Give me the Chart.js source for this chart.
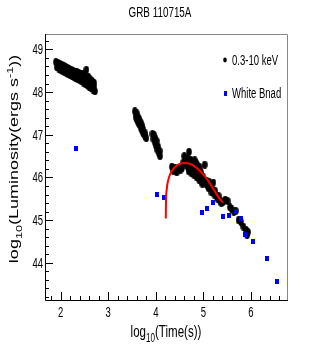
<!DOCTYPE html>
<html>
<head>
<meta charset="utf-8">
<script src="https://cdn.jsdelivr.net/npm/chart.js@4.4.0/dist/chart.umd.min.js"></script>
<style>
  html, body { margin: 0; padding: 0; background: #fff; }
  #wrap { width: 319px; height: 354px; position: relative; }
</style>
</head>
<body>
<div id="wrap"><canvas id="mainChart" width="319" height="354"></canvas></div>
<script>
// X-ray (0.3-10 keV) light curve, log10 values
const xrayTime = [
  // early steep part
  1.90, 1.94, 1.98, 2.02, 2.06, 2.10, 2.14, 2.18, 2.22, 2.26, 2.30, 2.34, 2.38, 2.42, 2.46, 2.50, 2.54, 2.58, 2.62, 2.66, 2.70,
  1.92, 1.96, 2.00, 2.04, 2.08, 2.12, 2.16, 2.20, 2.24, 2.28, 2.32, 2.36, 2.40, 2.44, 2.48, 2.52, 2.56, 2.60, 2.64, 2.68, 2.72,
  1.94, 1.98, 2.02, 2.06, 2.10, 2.14, 2.18, 2.22, 2.26, 2.30, 2.34, 2.38, 2.42, 2.46, 2.50, 2.54, 2.58, 2.62, 2.66, 2.70,
  // second orbit
  3.56, 3.58, 3.59, 3.60, 3.61, 3.62, 3.63, 3.64, 3.65, 3.66, 3.67, 3.68, 3.69, 3.70, 3.71, 3.72, 3.73, 3.74, 3.75, 3.77, 3.78, 3.80,
  3.93, 3.95, 3.96, 3.98, 3.99, 4.00, 4.02, 4.03, 4.05, 4.06, 4.08, 4.09,
  // flare and late decay
  4.34, 4.37, 4.41, 4.44, 4.48, 4.52, 4.55, 4.60, 4.64, 4.67, 4.70, 4.72, 4.74, 4.76,
  4.78, 4.79, 4.81, 4.83, 4.84, 4.86, 4.88, 4.89, 4.91, 4.93, 4.95, 4.97, 5.00, 5.03,
  5.05, 5.07, 5.11, 5.14, 5.17, 5.21, 5.23, 5.28, 5.32, 5.36, 5.41, 5.46, 5.51, 5.56,
  5.60, 5.64, 5.68, 5.74, 5.79, 5.84, 5.90, 5.92, 5.94,
  4.58, 4.62, 4.66, 4.69, 4.73, 4.75, 4.77, 4.80, 4.82, 4.85, 4.87, 4.90, 4.92, 4.94,
  4.96, 4.98, 5.02, 5.09, 5.12, 5.19, 5.25, 5.30, 5.38
];
const xrayLum = [
  48.70, 48.68, 48.66, 48.64, 48.62, 48.58, 48.57, 48.54, 48.52, 48.50, 48.48, 48.47, 48.44, 48.42, 48.43, 48.40, 48.52, 48.36, 48.30, 48.26, 48.22,
  48.58, 48.55, 48.52, 48.50, 48.48, 48.45, 48.42, 48.40, 48.38, 48.35, 48.32, 48.30, 48.28, 48.25, 48.22, 48.20, 48.16, 48.12, 48.10, 48.06, 48.02,
  48.63, 48.60, 48.58, 48.55, 48.52, 48.50, 48.48, 48.45, 48.43, 48.41, 48.39, 48.37, 48.34, 48.32, 48.30, 48.28, 48.25, 48.22, 48.17, 48.14,
  47.55, 47.48, 47.40, 47.50, 47.35, 47.42, 47.30, 47.38, 47.25, 47.32, 47.22, 47.28, 47.15, 47.22, 47.10, 47.16, 47.05, 47.12, 47.02, 46.98, 47.03, 46.92,
  47.02, 46.90, 47.00, 46.82, 46.92, 46.75, 46.85, 46.65, 46.72, 46.58, 46.62, 46.50,
  46.25, 46.15, 46.22, 46.12, 46.20, 46.18, 46.22, 46.50, 46.30, 46.25, 46.60, 46.30, 46.22, 46.38,
  46.15, 46.30, 46.05, 46.25, 46.35, 46.00, 46.20, 46.10, 45.95, 46.15, 46.05, 45.90, 46.00, 46.30,
  45.85, 45.92, 45.75, 45.80, 45.65, 45.88, 45.60, 45.55, 45.57, 45.45, 45.42, 45.48, 45.45, 45.30,
  45.25, 45.20, 45.22, 45.00, 44.96, 44.85, 44.77, 44.65, 44.72,
  46.35, 46.40, 46.45, 46.15, 46.42, 46.10, 46.25, 46.20, 46.40, 46.15, 46.30, 46.00, 46.25, 45.98,
  46.10, 45.85, 45.95, 45.80, 45.90, 45.72, 45.68, 45.50, 45.40
];

// White band (optical) points
const whiteTime = [2.32, 4.03, 4.18, 4.97, 5.07, 5.21, 5.42, 5.55, 5.68, 5.80, 5.88, 6.04, 6.33, 6.56];
const whiteLum  = [46.67, 45.60, 45.53, 45.17, 45.28, 45.41, 45.08, 45.12, 45.20, 45.04, 44.67, 44.50, 44.10, 43.57];

// Red fitted curve
const fitTime = [4.21, 4.215, 4.23, 4.26, 4.30, 4.36, 4.44, 4.53, 4.62, 4.71, 4.80, 4.89, 4.98, 5.07, 5.16, 5.25, 5.33, 5.41];
const fitLum  = [45.04, 45.45, 45.72, 45.93, 46.07, 46.19, 46.28, 46.33, 46.34, 46.32, 46.27, 46.19, 46.09, 45.97, 45.82, 45.66, 45.52, 45.41];

// Axis ticks and labels
const xTicks = [2, 3, 4, 5, 6];
const yTicks = [44, 45, 46, 47, 48, 49];
const chartTitle = 'GRB 110715A';
const seriesNames = ['0.3-10 keV', 'White Bnad'];

const SQUASH = 0.68; // the figure is compressed horizontally
const FONT = '"Liberation Sans", Arial, sans-serif';

// marker images
function makeMarker(w, h, draw) {
    const c = document.createElement('canvas');
    c.width = w; c.height = h;
    draw(c.getContext('2d'), w, h);
    return c;
}
const blackDot = makeMarker(6, 8, (g, w, h) => {
    g.fillStyle = '#000';
    g.beginPath();
    g.ellipse(w / 2, h / 2, 2.8, 3.9, 0, 0, Math.PI * 2);
    g.fill();
});
const blueSquare = makeMarker(4, 5, (g, w, h) => {
    g.fillStyle = '#0000ff';
    g.fillRect(0, 0, w, h);
});

// draws text with optional sub/superscript parts, squashed horizontally
function richWidth(ctx, parts, size) {
    let w = 0;
    parts.forEach(p => {
        const s = p.k === 'n' ? size : size * 0.7;
        ctx.font = s + 'px ' + FONT;
        w += ctx.measureText(p.t).width;
    });
    return w;
}
function drawParts(ctx, parts, size, startX) {
    let cx = startX;
    ctx.textAlign = 'left';
    ctx.textBaseline = 'alphabetic';
    parts.forEach(p => {
        const s = p.k === 'n' ? size : size * 0.7;
        ctx.font = s + 'px ' + FONT;
        let dy = 0;
        if (p.k === 'sub') dy = size * 0.3;
        if (p.k === 'sup') dy = -size * 0.42;
        ctx.fillText(p.t, cx, dy);
        cx += ctx.measureText(p.t).width;
    });
}
function drawRich(ctx, parts, x, y, size, align) {
    ctx.save();
    ctx.translate(x, y);
    ctx.scale(SQUASH, 1);
    const total = richWidth(ctx, parts, size);
    const start = align === 'center' ? -total / 2 : (align === 'right' ? -total : 0);
    drawParts(ctx, parts, size, start);
    ctx.restore();
}

const rootStyle = {
    id: 'rootStyle',
    afterDraw(chart) {
        const ctx = chart.ctx;
        const a = chart.chartArea;
        const xs = chart.scales.x, ys = chart.scales.y;
        ctx.save();

        // frame
        ctx.lineWidth = 1;
        ctx.strokeStyle = '#888';
        ctx.beginPath();
        ctx.moveTo(a.left, a.top + 0.5); ctx.lineTo(a.right + 0.5, a.top + 0.5);
        ctx.lineTo(a.right + 0.5, a.bottom);
        ctx.stroke();
        ctx.strokeStyle = '#000';
        ctx.beginPath();
        ctx.moveTo(a.left + 0.5, a.top); ctx.lineTo(a.left + 0.5, a.bottom + 0.5);
        ctx.lineTo(a.right + 1, a.bottom + 0.5);
        ctx.stroke();

        // inward ticks, minor every 0.2
        ctx.beginPath();
        for (let i = Math.ceil(xs.min * 5); i <= Math.floor(xs.max * 5); i++) {
            const px = Math.round(xs.getPixelForValue(i / 5)) + 0.5;
            const len = i % 5 === 0 ? 8 : 4;
            ctx.moveTo(px, a.bottom);
            ctx.lineTo(px, a.bottom - len);
        }
        for (let i = Math.ceil(ys.min * 5); i <= Math.floor(ys.max * 5); i++) {
            const py = Math.round(ys.getPixelForValue(i / 5)) + 0.5;
            const len = i % 5 === 0 ? 8 : 4;
            ctx.moveTo(a.left, py);
            ctx.lineTo(a.left + len, py);
        }
        ctx.stroke();

        // tick labels
        ctx.fillStyle = '#000';
        xTicks.forEach(v => {
            drawRich(ctx, [{ t: String(v), k: 'n' }], xs.getPixelForValue(v), a.bottom + 17, 14, 'center');
        });
        yTicks.forEach(v => {
            drawRich(ctx, [{ t: String(v), k: 'n' }], a.left - 2, ys.getPixelForValue(v) + 5, 14, 'right');
        });

        // title
        drawRich(ctx, [{ t: chartTitle, k: 'n' }], 160, 17, 14.5, 'center');

        // axis titles
        drawRich(ctx, [
            { t: 'log', k: 'n' }, { t: '10', k: 'sub' }, { t: '(Time(s))', k: 'n' }
        ], 166, 337, 17, 'center');

        const yParts = [
            { t: 'log', k: 'n' }, { t: '10', k: 'sub' }, { t: '(Luminosity(ergs s', k: 'n' },
            { t: '-1', k: 'sup' }, { t: '))', k: 'n' }
        ];
        ctx.save();
        ctx.translate(18, 159);
        ctx.rotate(-Math.PI / 2);
        ctx.scale(1, SQUASH);
        drawParts(ctx, yParts, 18, -richWidth(ctx, yParts, 18) / 2);
        ctx.restore();

        // legend
        ctx.fillStyle = '#000';
        ctx.beginPath();
        ctx.ellipse(225, 60, 1.8, 2.4, 0, 0, Math.PI * 2);
        ctx.fill();
        drawRich(ctx, [{ t: seriesNames[0], k: 'n' }], 232, 65, 14, 'left');
        ctx.fillStyle = '#0000ff';
        ctx.fillRect(224, 91, 3, 5);
        ctx.fillStyle = '#000';
        drawRich(ctx, [{ t: seriesNames[1], k: 'n' }], 232, 98, 14, 'left');

        ctx.restore();
    }
};

const ctx = document.getElementById('mainChart').getContext('2d');
new Chart(ctx, {
    type: 'scatter',
    data: {
        datasets: [{
            label: seriesNames[0],
            data: xrayTime.map((t, i) => ({ x: t, y: xrayLum[i] })),
            pointStyle: blackDot,
            order: 2
        }, {
            label: seriesNames[1],
            data: whiteTime.map((t, i) => ({ x: t, y: whiteLum[i] })),
            pointStyle: blueSquare,
            order: 1
        }, {
            label: 'fit',
            data: fitTime.map((t, i) => ({ x: t, y: fitLum[i] })),
            showLine: true,
            borderColor: '#ff0000',
            borderWidth: 2,
            pointRadius: 0,
            cubicInterpolationMode: 'monotone',
            order: 0
        }]
    },
    options: {
        responsive: false,
        animation: false,
        layout: {
            padding: { left: 45, right: 32, top: 34, bottom: 54 }
        },
        scales: {
            x: { type: 'linear', min: 1.67, max: 6.76, display: false },
            y: { type: 'linear', min: 43.13, max: 49.36, display: false }
        },
        plugins: {
            legend: { display: false },
            title: { display: false },
            tooltip: { enabled: false }
        }
    },
    plugins: [rootStyle]
});
</script>
</body>
</html>
